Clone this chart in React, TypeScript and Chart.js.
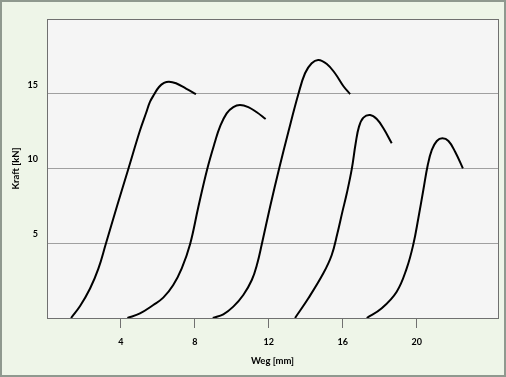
import React, { useEffect, useRef } from "react";
import { Chart, registerables } from "chart.js";

Chart.register(...registerables);

const weg1 = [1.3, 1.79, 2.33, 2.78, 3.18, 3.79, 4.4, 5.03, 5.36, 5.57, 5.81, 6.06, 6.33, 6.6, 6.98, 7.52, 8.06];
const kraft1 = [0, 0.8, 1.97, 3.3, 4.95, 7.49, 9.97, 12.54, 13.71, 14.45, 14.98, 15.45, 15.72, 15.81, 15.7, 15.35, 14.98];

const weg2 = [4.35, 5.03, 5.75, 6.29, 6.83, 7.29, 7.74, 8.19, 8.67, 9.09, 9.36, 9.72, 10.08, 10.44, 10.89, 11.35, 11.83];
const kraft2 = [0, 0.31, 0.87, 1.36, 2.21, 3.32, 4.93, 7.44, 9.97, 11.79, 12.8, 13.69, 14.11, 14.25, 14.11, 13.76, 13.31];

const weg3 = [8.97, 9.54, 10.08, 10.62, 11.08, 11.38, 11.62, 12.07, 12.55, 13.06, 13.6, 13.96, 14.32, 14.68, 15.14, 15.58, 16.03, 16.4];
const kraft3 = [0, 0.25, 0.76, 1.54, 2.54, 3.66, 4.93, 7.44, 9.95, 12.46, 14.98, 16.37, 17.04, 17.26, 16.99, 16.37, 15.52, 14.98];

const weg4 = [13.42, 14.14, 14.95, 15.4, 15.7, 15.98, 16.22, 16.49, 16.7, 16.88, 17.12, 17.48, 17.84, 18.2, 18.65];
const kraft4 = [0, 1.32, 2.99, 4.2, 5.6, 7.1, 8.34, 9.97, 11.69, 12.8, 13.4, 13.58, 13.31, 12.69, 11.69];

const weg5 = [17.3, 18.11, 18.92, 19.46, 19.82, 20.09, 20.36, 20.6, 20.82, 21.09, 21.39, 21.72, 22.08, 22.5];
const kraft5 = [0, 0.65, 1.76, 3.32, 4.93, 6.67, 8.56, 10.23, 11.24, 11.84, 12.02, 11.84, 11.12, 10.01];

const xTicks = [4, 8, 12, 16, 20];
const yTicks = [5, 10, 15];
const xTitle = "Weg [mm]";
const yTitle = "Kraft [kN]";

const FONT = "Lato, 'Open Sans', sans-serif";

export default function App() {
  const ref = useRef<HTMLCanvasElement>(null);

  useEffect(() => {
    const canvas = ref.current!;
    const series = [
      [weg1, kraft1],
      [weg2, kraft2],
      [weg3, kraft3],
      [weg4, kraft4],
      [weg5, kraft5],
    ];
    const bgPlugin = {
      id: "bg",
      beforeDraw(chart: any) {
        const { ctx, chartArea: a, width, height } = chart;
        ctx.save();
        ctx.fillStyle = "#eef5e8";
        ctx.fillRect(0, 0, width, height);
        ctx.fillStyle = "#f5f5f5";
        ctx.fillRect(a.left, a.top, a.right - a.left, a.bottom - a.top);
        ctx.restore();
      },
      afterDraw(chart: any) {
        const { ctx, chartArea: a, width, height } = chart;
        ctx.save();
        ctx.strokeStyle = "#707070";
        ctx.lineWidth = 1;
        ctx.strokeRect(Math.round(a.left) + 0.5, Math.round(a.top) + 0.5, Math.round(a.right - a.left), Math.round(a.bottom - a.top));
        ctx.strokeStyle = "#8f998f";
        ctx.lineWidth = 2;
        ctx.strokeRect(1, 1, width - 2, height - 2);
        ctx.restore();
      },
    };
    const chart = new Chart(canvas, {
      type: "scatter",
      data: {
        datasets: series.map(([xs, ys]) => ({
          data: xs.map((x, i) => ({ x, y: ys[i] })),
          showLine: true,
          borderColor: "#000000",
          borderWidth: 2,
          pointRadius: 0,
          tension: 0.4,
          fill: false,
        })),
      },
      options: {
        responsive: false,
        animation: false,
        events: [],
        layout: { padding: { left: 0, right: 8, top: 19, bottom: 0 } },
        plugins: { legend: { display: false }, tooltip: { enabled: false } },
        scales: {
          x: {
            type: "linear",
            min: 0,
            max: 24.4,
            afterBuildTicks: (s: any) => {
              s.ticks = xTicks.map((v) => ({ value: v }));
            },
            afterFit: (s: any) => {
              s.height = 59;
            },
            border: { display: false },
            grid: {
              drawOnChartArea: false,
              drawTicks: true,
              tickLength: 10,
              color: "#707070",
            },
            ticks: {
              color: "#000000",
              padding: 9,
              maxRotation: 0,
              font: { family: FONT, size: 9, weight: "bold" },
            },
            title: {
              display: true,
              text: xTitle,
              color: "#000000",
              padding: { top: 0, bottom: 10 },
              font: { family: FONT, size: 9.5, weight: "bold" },
            },
          },
          y: {
            type: "linear",
            min: 0,
            max: 20,
            afterBuildTicks: (s: any) => {
              s.ticks = [0, ...yTicks, 20].map((v) => ({ value: v }));
            },
            afterFit: (s: any) => {
              s.width = 47;
            },
            border: { display: false },
            grid: {
              drawTicks: false,
              color: (c: any) => (yTicks.includes(c.tick?.value) ? "#a0a0a0" : "rgba(0,0,0,0)"),
              lineWidth: 1,
            },
            ticks: {
              color: "#000000",
              padding: 9,
              labelOffset: -9,
              callback: (v: any) => (yTicks.includes(Number(v)) ? String(v) : ""),
              font: { family: FONT, size: 9, weight: "bold" },
            },
            title: {
              display: true,
              text: yTitle,
              color: "#000000",
              padding: { top: 10, bottom: 0 },
              font: { family: FONT, size: 9.5, weight: "bold" },
            },
          },
        },
      },
      plugins: [bgPlugin],
    });
    return () => chart.destroy();
  }, []);

  return (
    <div style={{ position: "fixed", left: 0, top: 0, width: 506, height: 377 }}>
      <canvas ref={ref} width={506} height={377} style={{ display: "block" }} />
    </div>
  );
}
